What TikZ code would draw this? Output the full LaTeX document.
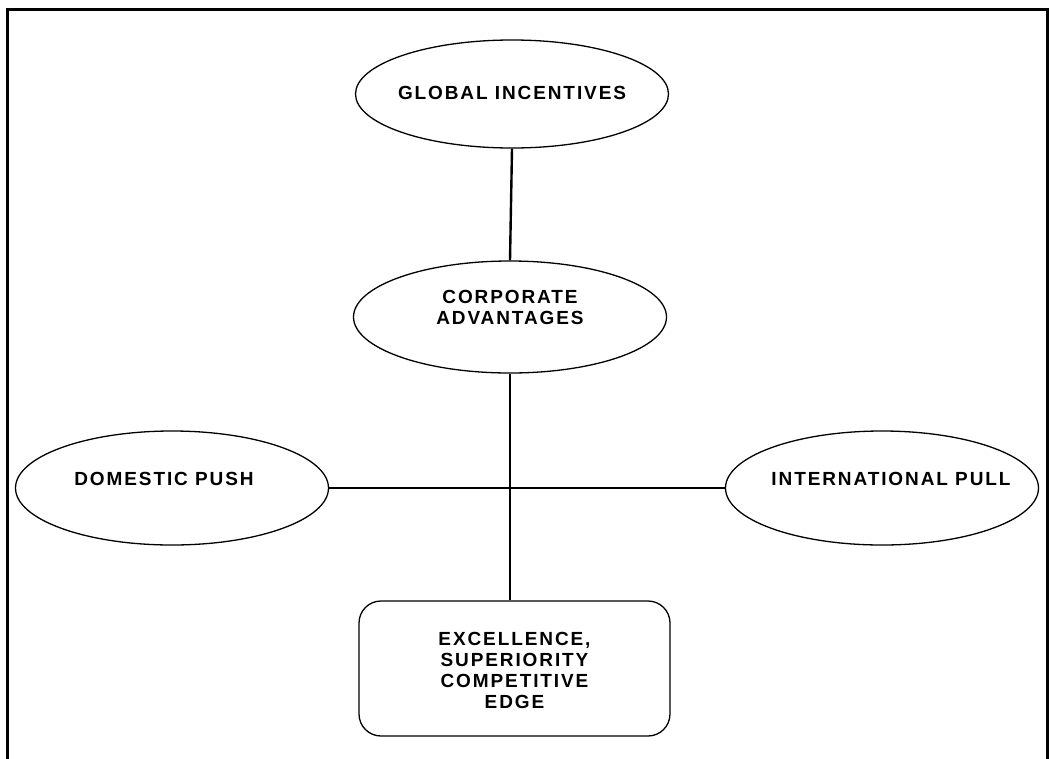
\documentclass[tikz,border=0pt]{standalone}
\usepackage{fontspec}
\newfontfamily\lblfont{Liberation Sans}[LetterSpace=10]
\usetikzlibrary{shapes.geometric}
\tikzset{
  oval/.style={draw, ellipse, line width=1.3pt, inner sep=0pt, minimum width=313pt, minimum height=110pt},
  lbl/.style={font=\lblfont\bfseries\fontsize{19pt}{21pt}\selectfont, align=center, inner sep=0pt},
  roundbox/.style={draw, rectangle, rounded corners=22pt, line width=1.3pt, inner sep=0pt, minimum width=311pt, minimum height=135pt},
  conn/.style={line width=2.4pt},
  frame/.style={line width=3pt}
}
\begin{document}
\begin{tikzpicture}[x=1pt,y=-1pt]
\useasboundingbox (0,0) rectangle (1049,758);
\draw[frame] (7,770) -- (7,9) -- (1047,9) -- (1047,770);
\node[oval, minimum height=108pt] (gi) at (512,94) {};
\node[lbl] (git) at ([yshift=1pt]gi.center) {GLOBAL INCENTIVES};
\node[oval, minimum height=112pt] (ca) at (510,317) {};
\node[lbl] (cat) at ([yshift=10pt]ca.center) {CORPORATE\\ADVANTAGES};
\node[oval, minimum height=114pt] (dp) at (172,488) {};
\node[lbl] (dpt) at ([yshift=9pt, xshift=-8pt]dp.center) {DOMESTIC PUSH};
\node[oval, minimum height=114pt] (ip) at (882,488) {};
\node[lbl] (ipt) at ([yshift=9pt, xshift=9pt]ip.center) {INTERNATIONAL PULL};
\node[roundbox] (ex) at (514.5,668.5) {};
\node[lbl] (ext) at ([yshift=-2pt]ex.center) {EXCELLENCE,\\SUPERIORITY\\COMPETITIVE\\EDGE};
\draw[conn] (gi.south) -- (ca.north);
\draw[conn] (ca.south) -- (ca.south |- ex.north);
\draw[conn] (dp.east) -- (ip.west);
\end{tikzpicture}
\end{document}
